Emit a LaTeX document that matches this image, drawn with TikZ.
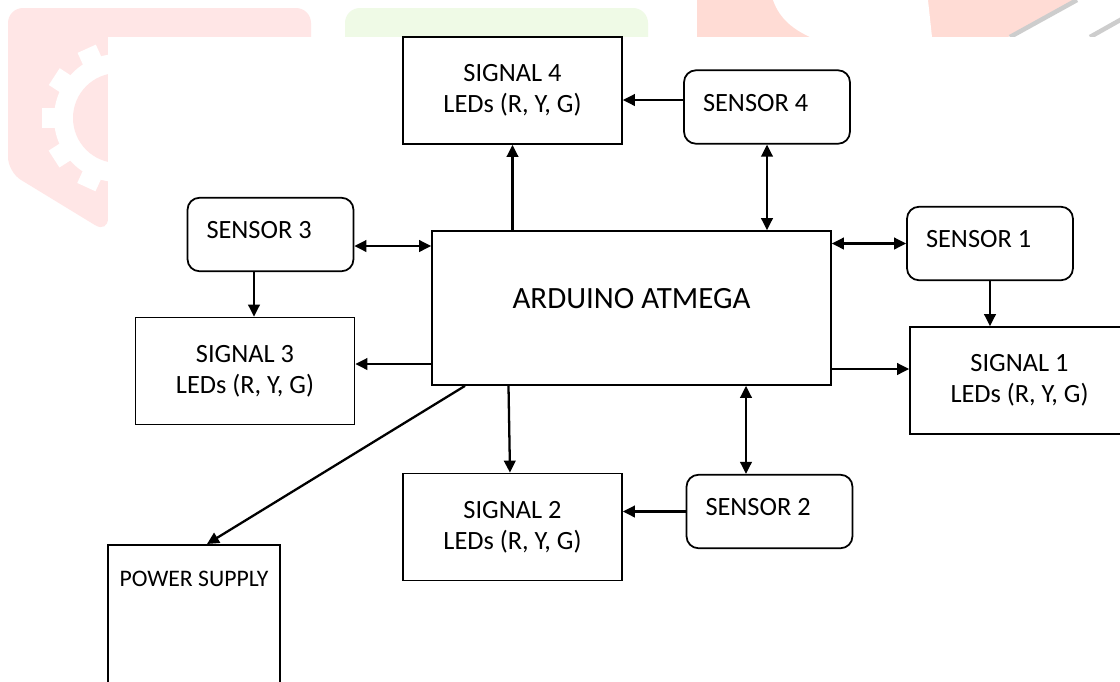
\documentclass[tikz,border=0pt]{standalone}
\usepackage{fontspec}
\setmainfont{Carlito}
\usetikzlibrary{arrows.meta,calc}

\definecolor{wmpink}{HTML}{FFE6E6}
\definecolor{wmsalmon}{HTML}{FFDCD5}
\definecolor{wmgreen}{HTML}{EFFAE6}
\definecolor{wmgray}{HTML}{CDCDCD}

\newcommand{\senlabel}[1]{\makebox[25.6mm][l]{#1}}

\tikzset{
  sigbox/.style={draw, line width=1pt, minimum width=43.8mm, minimum height=21.4mm,
    align=center, font=\fontsize{15}{17.6}\selectfont},
  senbox/.style={draw, line width=1pt, rounded corners=2.4mm, minimum height=14.7mm,
    inner xsep=3.8mm, text depth=1.8mm, font=\fontsize{15}{18}\selectfont},
  link/.style={line width=1.3pt, -{Triangle[length=2.4mm,width=2.3mm]}},
  duplex/.style={line width=1.3pt, {Triangle[length=2.4mm,width=2.3mm]}-{Triangle[length=2.4mm,width=2.3mm]}}
}

\begin{document}
\begin{tikzpicture}[x=0.02cm,y=-0.02cm]
  \useasboundingbox (0,0) rectangle (1120,681);
  \fill[white] (0,0) rectangle (1120,681);

  % watermark behind the diagram
  \fill[wmpink, rounded corners=3mm] (8,8) -- (311,8) -- (311,60) -- (108,60) -- (108,233) -- (8,172) -- cycle;
  \fill[white] (118,118) circle (12.8mm);
  \foreach \a in {0,32.7,...,359} {
    \fill[white, rotate around={\a:(118,118)}] (42,108) rectangle (60,128);
  }
  \fill[wmpink] (118,118) circle (9mm);
  \fill[wmgreen, rounded corners=3mm] (345,8) rectangle (648,60);
  \fill[wmsalmon] (697,0) -- (1075,0) -- (1008,37) -- (697,37) -- cycle;
  \fill[white] (773,0) .. controls (780,20) and (795,30) .. (810,37) -- (932,37) -- (928,0) -- cycle;
  \draw[wmgray, line width=0.9mm] (1010,37) -- (1077,0);
  \draw[wmgray, line width=0.9mm] (1090,37) -- (1122,19);

  \fill[white] (108,37) rectangle (1120,681);

  % blocks
  \node[draw, line width=1pt, minimum width=79.8mm, minimum height=30.8mm, text depth=4mm,
    font=\fontsize{17.6}{20}\selectfont] (ard) at (631.5,308) {ARDUINO ATMEGA};
  \node[sigbox] (sig4) at (512.5,90.5) {SIGNAL 4\\LEDs (R, Y, G)};
  \node[sigbox] (sig3) at (245,371) {SIGNAL 3\\LEDs (R, Y, G)};
  \node[sigbox] (sig1) at (1019.5,380.5) {SIGNAL 1\\LEDs (R, Y, G)};
  \node[sigbox] (sig2) at (512.5,527) {SIGNAL 2\\LEDs (R, Y, G)};

  \node[senbox] (sen4) at (767,107) {\senlabel{SENSOR 4}};
  \node[senbox] (sen3) at (270.5,234.5) {\senlabel{SENSOR 3}};
  \node[senbox] (sen1) at (990,243.5) {\senlabel{SENSOR 1}};
  \node[senbox] (sen2) at (769.5,511.5) {\senlabel{SENSOR 2}};

  \node[draw, line width=1pt, anchor=north, minimum width=34.4mm, inner sep=0pt,
    text height=8.4mm, text depth=28mm, font=\fontsize{13.5}{16}\selectfont] (pwr) at (194,544) {POWER SUPPLY};

  % connections
  \draw[link] (sig4.south |- ard.north) -- (sig4.south);
  \draw[link] ($(sen4.west)+(0,-7)$) coordinate (s4) -- (s4 -| sig4.east);
  \draw[duplex] (sen4.south) -- (sen4.south |- ard.north);

  \draw[duplex] ($(sen3.east)+(0,11.5)$) coordinate (s3) -- (s3 -| ard.west);
  \draw[link] ($(sen3.south)+(-16.5,0)$) coordinate (s3b) -- (s3b |- sig3.north);
  \draw[link] ($(ard.west)+(0,56)$) coordinate (a3) -- (a3 -| sig3.east);

  \draw[duplex] (sen1.west -| ard.east) -- (sen1.west);
  \draw[link] (sen1.south) -- (sen1.south |- sig1.north);
  \draw[link] ($(ard.east)+(0,61)$) coordinate (a1) -- (a1 -| sig1.west);

  \draw[link] ($(ard.south)+(-123,0)$) -- ($(sig2.north)+(-2.5,0)$);
  \draw[duplex] ($(ard.south)+(114.5,0)$) coordinate (a2) -- (a2 |- sen2.north);
  \draw[link] (sen2.west) -- (sen2.west -| sig2.east);

  \draw[link] ($(ard.south)+(-166.5,0)$) -- ($(pwr.north)+(13,0)$);
\end{tikzpicture}
\end{document}
